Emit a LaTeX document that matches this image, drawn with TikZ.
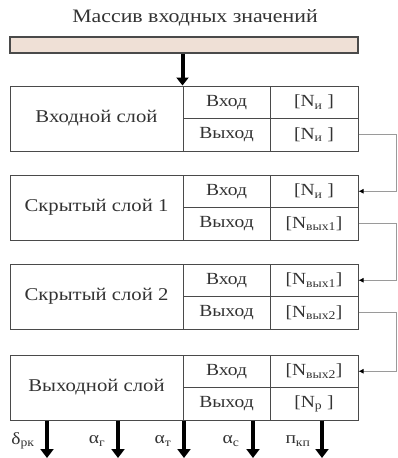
\documentclass[tikz,border=0pt]{standalone}
\usepackage{fontspec}
\setmainfont[FakeStretch=1.15]{Liberation Serif}
\usetikzlibrary{arrows.meta}
\definecolor{boxline}{HTML}{4A4A4A}
\definecolor{conn}{HTML}{9A9A9A}
\definecolor{barfill}{HTML}{EFE0D6}
\definecolor{txt}{HTML}{333333}
\begin{document}
\begin{tikzpicture}[x=1pt,y=-1pt,
  every node/.style={text=txt},
  cell/.style={draw=boxline,line width=1pt,inner sep=0pt,minimum height=32.5pt,font=\fontsize{17}{17}\selectfont},
  namecell/.style={draw=boxline,line width=1pt,inner sep=0pt,minimum width=173pt,minimum height=65pt,font=\fontsize{18}{18}\selectfont},
  lblcell/.style={cell,minimum width=87pt},
  valcell/.style={cell,minimum width=88pt},
  feed/.style={draw=conn,line width=0.8pt,-{Latex[length=5pt,width=5pt,black]}},
  bigarrow/.style={line width=4pt,-{Triangle[length=9pt,width=13pt]}},
  outlbl/.style={font=\fontsize{17}{17}\selectfont,inner sep=0pt}
]
\useasboundingbox (0,0) rectangle (397,458);
\node[font=\fontsize{19}{19}\selectfont] (title) at (195,18) {Массив входных значений};
\node[draw=boxline,line width=1.6pt,fill=barfill,minimum width=348pt,minimum height=16pt,inner sep=0pt] (bar) at (184,45) {};
% layers
\foreach \nm/\t/\txt/\iv/\ov in {
  L1/86/{Входной слой}/{[N\textsubscript{и} ]}/{[N\textsubscript{и} ]},
  L2/175/{Скрытый слой 1}/{[N\textsubscript{и} ]}/{[N\textsubscript{вых1}]},
  L3/264/{Скрытый слой 2}/{[N\textsubscript{вых1}]}/{[N\textsubscript{вых2}]},
  L4/355/{Выходной слой}/{[N\textsubscript{вых2}]}/{[N\textsubscript{р} ]}}{
  \node[namecell] (\nm n) at (96.5,\t+32.5) {\txt};
  \node[lblcell] (\nm il) at (226.5,\t+16.25) {Вход};
  \node[valcell] (\nm iv) at (314,\t+16.25) {\iv};
  \node[lblcell] (\nm ol) at (226.5,\t+48.75) {Выход};
  \node[valcell] (\nm ov) at (314,\t+48.75) {\ov};
}
\draw[line width=4pt,-{Triangle[length=8pt,width=12pt]}] (bar.south -| L1il.west) -- (L1il.north west);
% feedback connectors
\draw[feed] (L1ov.east) -- ++(38,0) |- (L2iv.east);
\draw[feed] (L2ov.east) -- ++(38,0) |- (L3iv.east);
\draw[feed] (L3ov.east) -- ++(38,0) |- (L4iv.east);
% outputs
\coordinate (o1) at (47,458);
\coordinate (o2) at (118,458);
\coordinate (o3) at (184,458);
\coordinate (o4) at (253,458);
\coordinate (o5) at (322,458);
\foreach \c in {o1,o2,o3,o4,o5}{
  \draw[bigarrow] (L4n.south -| \c) -- (\c);
}
\node[outlbl] (t1) at (23,441) {δ\textsubscript{рк}};
\node[outlbl] (t2) at (97,441) {α\textsubscript{г}};
\node[outlbl] (t3) at (163,441) {α\textsubscript{т}};
\node[outlbl] (t4) at (231,441) {α\textsubscript{с}};
\node[outlbl] (t5) at (298,441) {п\textsubscript{кп}};
\end{tikzpicture}
\end{document}
